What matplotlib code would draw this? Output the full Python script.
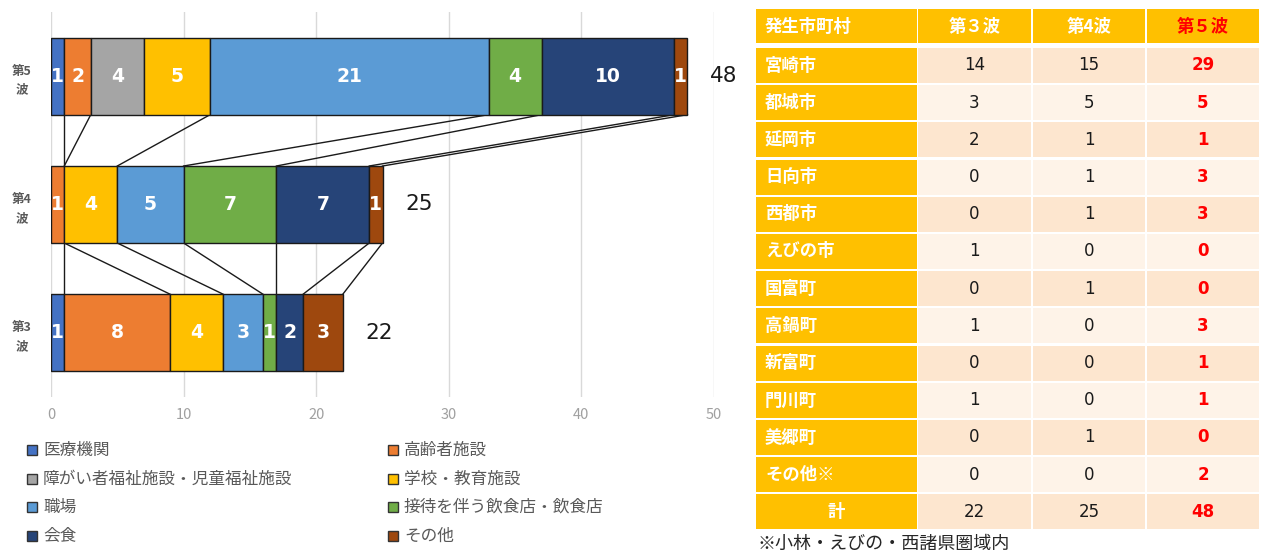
import numpy as np
import matplotlib
matplotlib.use("Agg")
import matplotlib.pyplot as plt
from matplotlib.patches import Rectangle

plt.rcParams["font.family"] = ["Noto Sans CJK JP", "DejaVu Sans"]

# クラスター発生場所の内訳（波ごと）
categories = ["医療機関", "高齢者施設", "障がい者福祉施設・児童福祉施設", "学校・教育施設",
              "職場", "接待を伴う飲食店・飲食店", "会食", "その他"]
colors = ["#4472C4", "#ED7D31", "#A5A5A5", "#FFC000",
          "#5B9BD5", "#70AD47", "#264478", "#9E480E"]
wave_labels = ["第5\n波", "第4\n波", "第3\n波"]
wave5 = [1, 2, 4, 5, 21, 4, 10, 1]
wave4 = [0, 1, 0, 4, 5, 7, 7, 1]
wave3 = [1, 8, 0, 4, 3, 1, 2, 3]

# 市町村別の表
towns = ["宮崎市", "都城市", "延岡市", "日向市", "西都市", "えびの市", "国富町",
         "高鍋町", "新富町", "門川町", "美郷町", "その他※"]
town3 = [14, 3, 2, 0, 0, 1, 0, 1, 0, 1, 0, 0]
town4 = [15, 5, 1, 1, 1, 0, 1, 0, 0, 0, 1, 0]
town5 = [29, 5, 1, 3, 3, 0, 0, 3, 1, 1, 0, 2]
headers = ["発生市町村", "第３波", "第4波", "第５波"]

W, H = 1264, 553
fig = plt.figure(figsize=(W / 100, H / 100), dpi=100)

# overlay in pixel coordinates for table and legend
ov = fig.add_axes([0, 0, 1, 1])
ov.set_xlim(0, W)
ov.set_ylim(H, 0)
ov.axis("off")

ax = fig.add_axes([51 / W, (H - 397) / H, 663 / W, 385 / H])
data = np.array([wave5, wave4, wave3])
ypos = np.array([2, 1, 0])
bh = 0.6
cum = np.cumsum(data, axis=1)
left = cum - data

for j, cat in enumerate(categories):
    vals = data[:, j]
    m = vals > 0
    ax.barh(ypos[m], vals[m], left=left[m, j], height=bh, color=colors[j],
            edgecolor="#1a1a1a", linewidth=1, zorder=3, label=cat)
    for y, v, l in zip(ypos[m], vals[m], left[m, j]):
        ax.text(l + v / 2, y, str(v), ha="center", va="center", color="white",
                fontsize=13.5, fontweight="bold", family="DejaVu Sans", zorder=4)

    # series lines between bars, skipping empty segments
    pts = [(ypos[i], cum[i, j]) for i in range(len(ypos)) if data[i, j] > 0]
    for (y1, x1), (y2, x2) in zip(pts[:-1], pts[1:]):
        ax.plot([x1, x2], [y1 - bh / 2, y2 + bh / 2], color="#1a1a1a", lw=1, zorder=2)

totals = data.sum(axis=1)
for y, t in zip(ypos, totals):
    ax.text(t + 1.7, y, str(t), ha="left", va="center", fontsize=15.5,
            family="DejaVu Sans", color="#1a1a1a")

ax.set_xlim(0, 50)
ax.set_ylim(-0.5, 2.5)
ax.set_xticks(np.arange(0, 51, 10))
ax.grid(axis="x", color="#D9D9D9", lw=1, zorder=0)
ax.set_yticks(ypos, wave_labels)
for lab in ax.get_yticklabels():
    lab.set_ha("center")
    lab.set_linespacing(1.6)
    lab.set_fontweight("bold")
ax.tick_params(axis="y", length=0, pad=21, labelsize=9, labelcolor="#595959")
ax.tick_params(axis="x", length=0, pad=8, labelsize=10.5, labelcolor="#A0A0A0")
for s in ax.spines.values():
    s.set_visible(False)

# legend, two columns filled row by row
leg_x = [27, 388]
leg_y = [450, 479, 507, 536]
for k, (cat, col) in enumerate(zip(categories, colors)):
    cx = leg_x[k % 2]
    cy = leg_y[k // 2]
    ov.add_patch(Rectangle((cx, cy - 5), 10, 10, facecolor=col, edgecolor="#333333", lw=1))
    ov.text(cx + 16, cy, cat, ha="left", va="center", fontsize=12, color="#595959")

# table
col_left = [756, 918, 1033, 1147]
col_w = [161, 113, 112, 112]
gold = "#FFC000"
dark_cell = "#FDE6CF"
light_cell = "#FEF3E8"

for c in range(4):
    ov.add_patch(Rectangle((col_left[c], 9), col_w[c], 34, facecolor=gold, edgecolor="none"))
    tx = col_left[c] + 9 if c == 0 else col_left[c] + col_w[c] / 2
    ov.text(tx, 27, headers[c], ha="left" if c == 0 else "center", va="center",
            fontsize=12.5, fontweight="bold", color="#FF0000" if c == 3 else "white")

rows = list(zip(towns, town3, town4, town5))
rows.append(("計", sum(town3), sum(town4), sum(town5)))
pitch = 37.2
for i, (name, a, b, c5) in enumerate(rows):
    top = 48 + pitch * i
    cy = top + 17.5
    ov.add_patch(Rectangle((col_left[0], top), col_w[0], 35, facecolor=gold, edgecolor="none"))
    if name == "計":
        ov.text(col_left[0] + col_w[0] / 2, cy, name, ha="center", va="center",
                fontsize=12.5, fontweight="bold", color="white")
    else:
        ov.text(col_left[0] + 9, cy, name, ha="left", va="center",
                fontsize=12.5, fontweight="bold", color="white")
    fill = dark_cell if i % 2 == 0 else light_cell
    for c, v in zip(range(1, 4), (a, b, c5)):
        ov.add_patch(Rectangle((col_left[c], top), col_w[c], 35, facecolor=fill, edgecolor="none"))
        ov.text(col_left[c] + col_w[c] / 2, cy, str(v), ha="center", va="center",
                fontsize=12, family="DejaVu Sans",
                fontweight="bold" if c == 3 else "normal",
                color="#FF0000" if c == 3 else "#1a1a1a")

ov.text(757, 544, "※小林・えびの・西諸県圏域内", ha="left", va="center",
        fontsize=13, color="#262626")

fig.savefig("out.png", dpi=100)
